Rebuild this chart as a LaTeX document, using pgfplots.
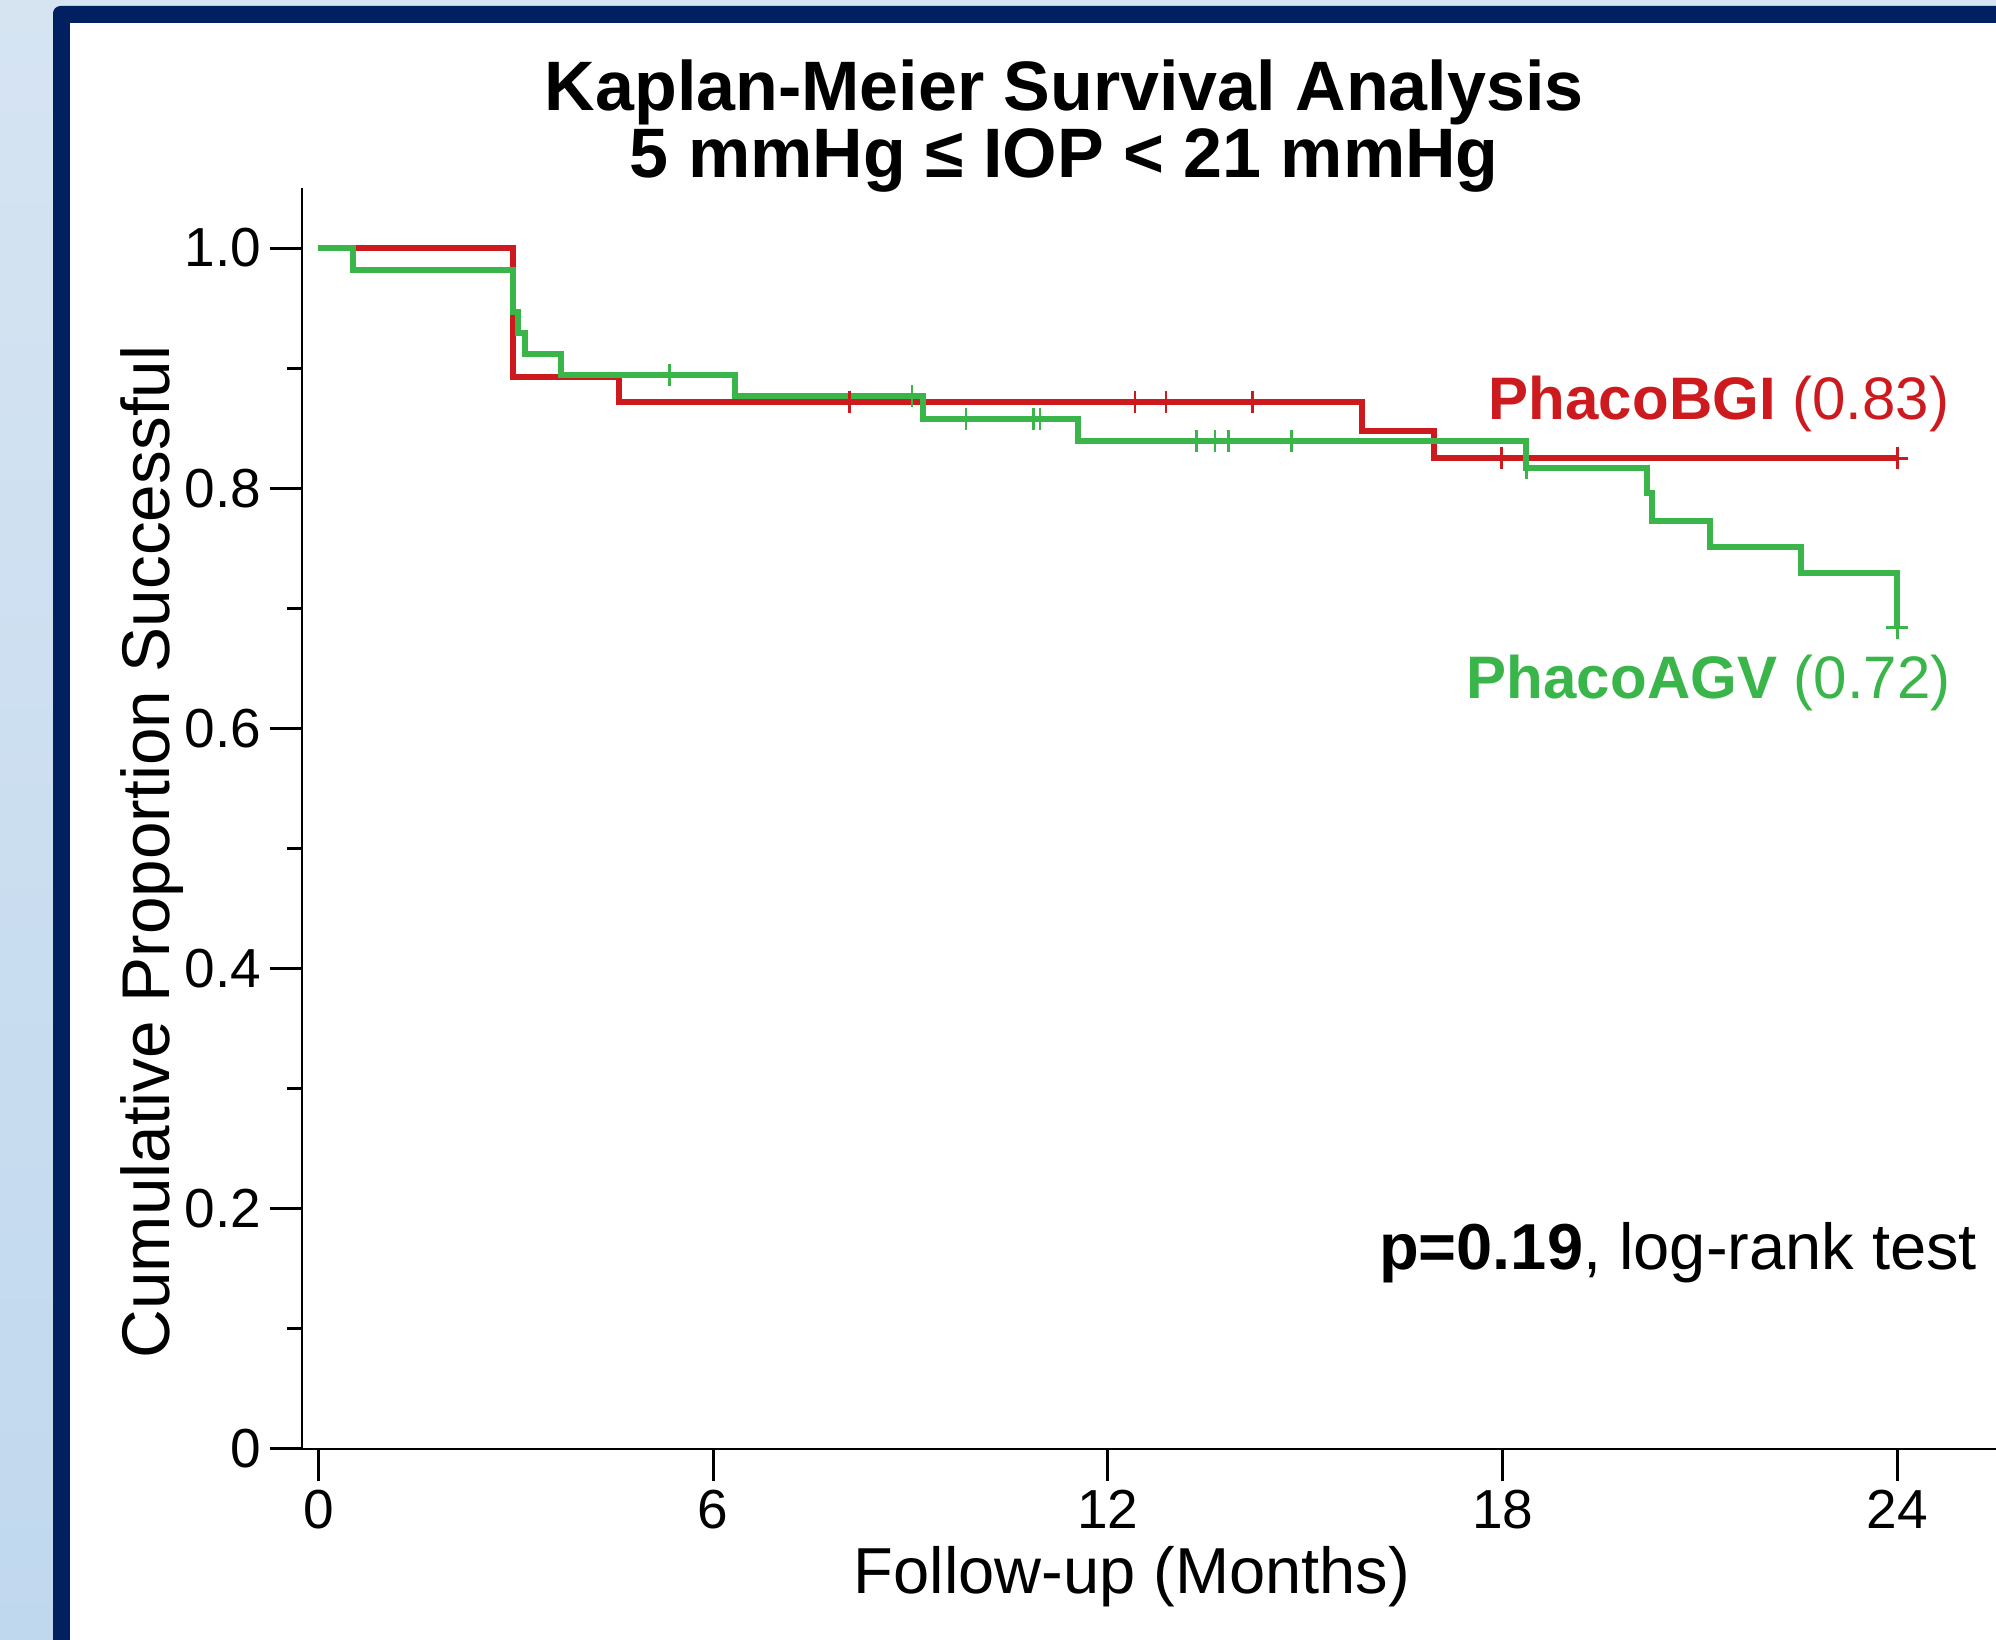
\documentclass[border=0pt]{standalone}
\usepackage{fontspec}
\setmainfont{Liberation Sans}
\usepackage{pgfplots}
\pgfplotsset{compat=1.18}
\definecolor{navy}{RGB}{0,32,96}
\definecolor{kmred}{RGB}{205,26,30}
\definecolor{kmgreen}{RGB}{57,181,74}
\definecolor{bgtop}{RGB}{214,228,242}
\definecolor{bgbot}{RGB}{192,216,238}

\begin{document}
\begin{tikzpicture}
\path[use as bounding box] (0,0) rectangle (399.2pt,328pt);
\begin{scope}
  \clip (0,0) rectangle (399.2pt,328pt);
  \shade[top color=bgtop, bottom color=bgbot] (0,0) rectangle (399.2pt,328pt);
  \fill[navy, rounded corners=1.5pt] (10.6pt,-20pt) rectangle (430pt,326.8pt);
  \fill[white] (14pt,-20pt) rectangle (430pt,323.4pt);
\end{scope}
\begin{axis}[
  at={(60.4pt,38.2pt)}, anchor=south west,
  scale only axis, width=338.8pt, height=252.2pt,
  xmin=-0.25, xmax=25.5, ymin=0, ymax=1.05,
  axis lines*=left,
  axis line style={line width=0.5pt,-},
  clip=false,
  tick align=outside,
  xtick={0,6,12,18,24}, xticklabels={0,6,12,18,24},
  ytick={0,0.2,0.4,0.6,0.8,1.0}, yticklabels={0,0.2,0.4,0.6,0.8,1.0},
  minor ytick={0.1,0.3,0.5,0.7,0.9},
  major tick length=6.4pt, minor tick length=3pt,
  every tick/.style={black, line width=0.6pt},
  tick label style={font=\fontsize{11}{11}\selectfont, inner sep=1.6pt},
  /pgf/number format/assume math mode=true,
  xlabel={Follow-up (Months)},
  ylabel={Cumulative Proportion Successful},
  every axis x label/.style={at={(rel axis cs:0.490,-0.115)}, anchor=base,
    font=\fontsize{13}{15}\selectfont},
  every axis y label/.style={at={(rel axis cs:-0.0782,0.4734)}, anchor=base,
    rotate=90, font=\fontsize{13.5}{15}\selectfont},
]
% PhacoBGI
\addplot[kmred, line width=1.2pt, const plot mark left]
  coordinates{(0,1)(2.96,0.893)(4.57,0.872)(15.87,0.848)(16.96,0.825)(24.0,0.825)};
\addplot[kmred, only marks, mark=|, mark size=2.2pt, mark options={line width=0.5pt}]
  coordinates{(8.07,0.872)(12.41,0.872)(12.88,0.872)(14.2,0.872)(17.98,0.825)};
\addplot[kmred, only marks, mark=+, mark size=2.2pt, mark options={line width=0.6pt}]
  coordinates{(24.0,0.825)};

% PhacoAGV
\addplot[kmgreen, line width=1.2pt, const plot mark left]
  coordinates{(0,1)(0.52,0.982)(2.96,0.947)(3.03,0.929)(3.14,0.912)(3.69,0.894)
  (6.33,0.877)(9.19,0.858)(11.54,0.839)(18.36,0.817)(20.19,0.796)(20.27,0.773)
  (21.15,0.751)(22.53,0.729)(24.0,0.684)};
\addplot[kmgreen, only marks, mark=|, mark size=2.2pt, mark options={line width=0.5pt}]
  coordinates{(5.34,0.894)(9.02,0.877)(9.84,0.858)(10.87,0.858)(10.97,0.858)
  (13.35,0.839)(13.63,0.839)(13.83,0.839)(14.79,0.839)(18.36,0.817)};
\addplot[kmgreen, only marks, mark=+, mark size=2.2pt, mark options={line width=0.6pt}]
  coordinates{(24.0,0.684)};

\node[anchor=base, inner sep=0pt, font=\bfseries\fontsize{14}{14}\selectfont]
  at (rel axis cs:0.450,1.0611) {Kaplan-Meier Survival Analysis};
\node[anchor=base, inner sep=0pt, font=\bfseries\fontsize{14}{14}\selectfont]
  at (rel axis cs:0.450,1.0079) {5 mmHg ≤ IOP < 21 mmHg};
\node[anchor=base east, inner sep=0pt, kmred, font=\fontsize{12}{12}\selectfont]
  at (rel axis cs:0.9729,0.816) {\textbf{PhacoBGI} (0.83)};
\node[anchor=base east, inner sep=0pt, kmgreen, font=\fontsize{12}{12}\selectfont]
  at (rel axis cs:0.9737,0.5948) {\textbf{PhacoAGV} (0.72)};
\node[anchor=base east, inner sep=0pt, font=\fontsize{13}{13}\selectfont]
  at (rel axis cs:0.9894,0.142) {\textbf{p=0.19}, log-rank test};
\end{axis}
\end{tikzpicture}
\end{document}
